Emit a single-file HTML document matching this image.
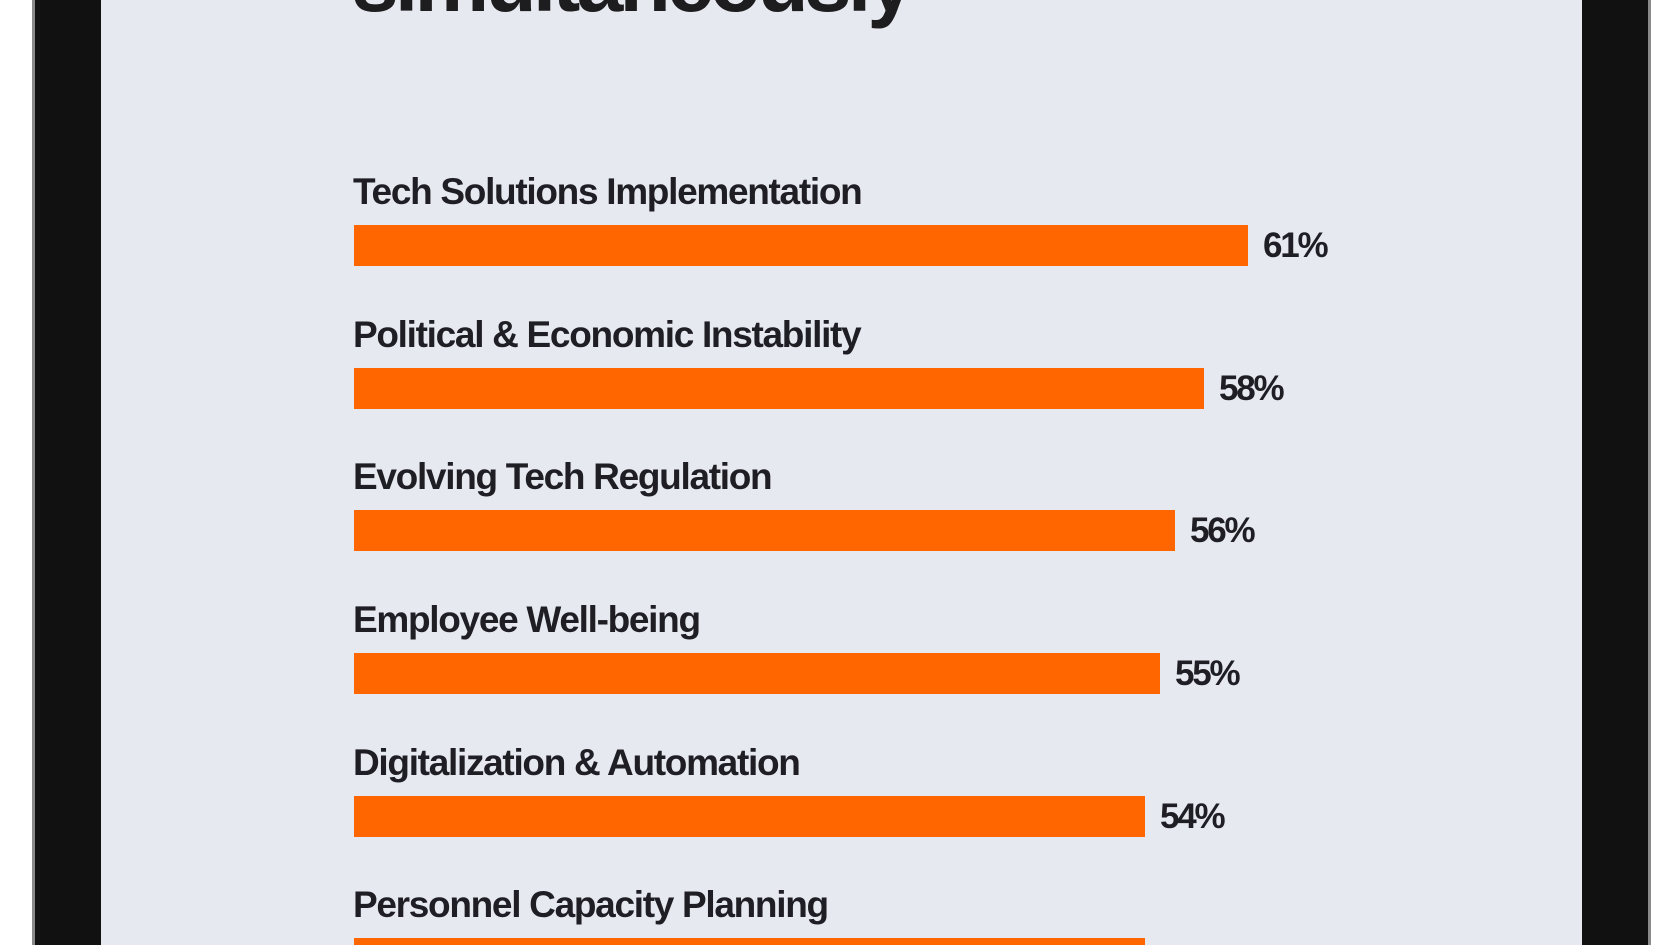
<!DOCTYPE html>
<html><head><style>
html,body{margin:0;padding:0;width:1680px;height:945px;overflow:hidden;background:#fff;font-family:"Liberation Sans",sans-serif}
.wrap{position:relative;width:1680px;height:945px;overflow:hidden}
.frame{position:absolute;left:32px;top:0;width:1619px;height:945px;background:#111;border-left:3px solid #8a8a8a;border-right:3px solid #8a8a8a;box-sizing:border-box}
.screen{position:absolute;left:101px;top:0;width:1481px;height:945px;background:#e6e9f0}
.title{position:absolute;left:352px;top:-66px;font-size:84px;font-weight:bold;color:#1d1d1f;letter-spacing:-3.8px;white-space:nowrap}
.lbl{position:absolute;left:353px;font-size:37px;font-weight:bold;color:#1e1e24;letter-spacing:-1.3px;white-space:nowrap}
.bar{position:absolute;left:354px;height:41px;background:#ff6600}
.val{position:absolute;font-size:35px;font-weight:bold;color:#1e1e24;letter-spacing:-2.2px}
</style></head><body><div class="wrap">
<div class="frame"></div>
<div class="screen"></div>
<div class="title">simultaneously</div>

<div class="lbl" style="top:171px">Tech Solutions Implementation</div>
<div class="bar" style="top:225px;width:894px"></div>
<div class="val" style="left:1263px;top:226px">61%</div>

<div class="lbl" style="top:314px">Political &amp; Economic Instability</div>
<div class="bar" style="top:368px;width:850px"></div>
<div class="val" style="left:1219px;top:369px">58%</div>

<div class="lbl" style="top:456px">Evolving Tech Regulation</div>
<div class="bar" style="top:510px;width:821px"></div>
<div class="val" style="left:1190px;top:511px">56%</div>

<div class="lbl" style="top:599px">Employee Well-being</div>
<div class="bar" style="top:653px;width:806px"></div>
<div class="val" style="left:1175px;top:654px">55%</div>

<div class="lbl" style="top:742px">Digitalization &amp; Automation</div>
<div class="bar" style="top:796px;width:791px"></div>
<div class="val" style="left:1160px;top:797px">54%</div>

<div class="lbl" style="top:884px">Personnel Capacity Planning</div>
<div class="bar" style="top:938px;width:791px;height:7px"></div>
</div></body></html>
